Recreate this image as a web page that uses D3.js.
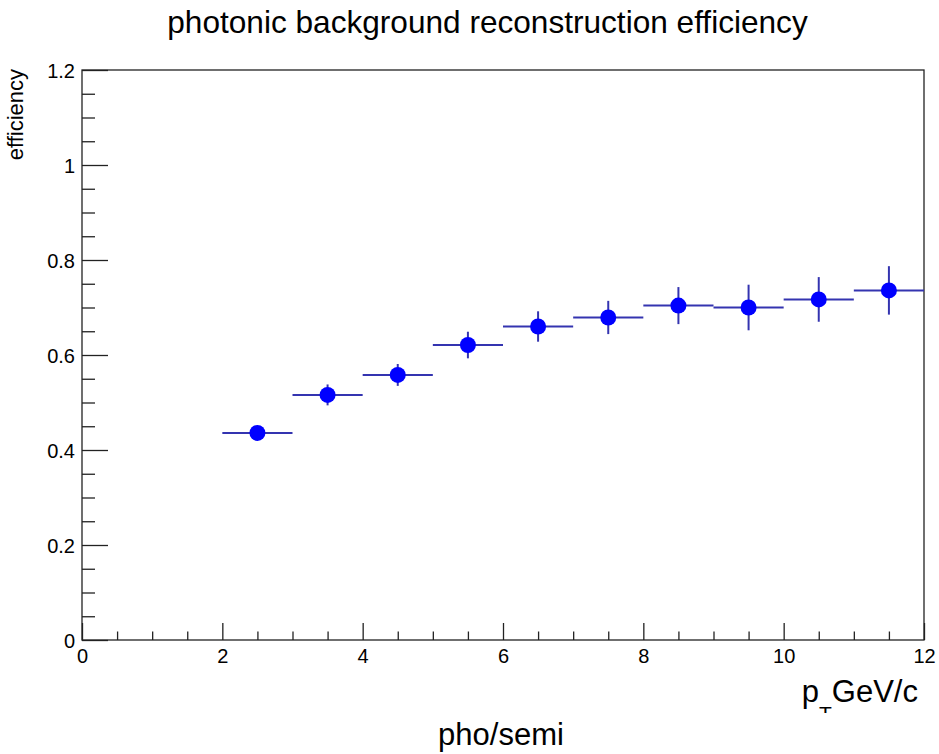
<!DOCTYPE html>
<html>
<head>
<meta charset="utf-8">
<script src="https://cdn.jsdelivr.net/npm/d3@7"></script>
<style>
  html, body { margin: 0; padding: 0; background: #fff; }
  svg { display: block; font-family: "Liberation Sans", Arial, Helvetica, sans-serif; }
</style>
</head>
<body>
<svg id="chart" width="939" height="754"></svg>
<script>
// ---- data ----
const binCenters = [2.5, 3.5, 4.5, 5.5, 6.5, 7.5, 8.5, 9.5, 10.5, 11.5];
const binHalfWidth = [0.5, 0.5, 0.5, 0.5, 0.5, 0.5, 0.5, 0.5, 0.5, 0.5];
const efficiency = [0.436, 0.516, 0.558, 0.621, 0.660, 0.679, 0.704, 0.700, 0.717, 0.736];
const efficiencyErr = [0.014, 0.022, 0.023, 0.028, 0.032, 0.035, 0.039, 0.048, 0.047, 0.051];
const xTickValues = [0, 2, 4, 6, 8, 10, 12];
const yTickValues = [0, 0.2, 0.4, 0.6, 0.8, 1.0, 1.2];
const titleText = "photonic background reconstruction efficiency";
const yTitleText = "efficiency";
const bottomText = "pho/semi";

(function () {
// ---- layout ----
const svg = d3.select("#chart");
const pLeft = 82, pRight = 924, pTop = 70, pBottom = 640;

const x = d3.scaleLinear().domain([0, 12]).range([pLeft, pRight]);
const y = d3.scaleLinear().domain([0, 1.2]).range([pBottom, pTop]);

const axisColor = "#222";

// minor ticks
const xMinor = d3.range(0, 12.0001, 0.5).filter(v => Math.abs(v / 2 - Math.round(v / 2)) > 1e-6);
const yMinor = d3.range(0, 1.2001, 0.05).filter(v => Math.abs(v / 0.2 - Math.round(v / 0.2)) > 1e-6);

// x axis (ticks pointing up)
const gx = svg.append("g").attr("transform", `translate(0,${pBottom})`);
gx.call(d3.axisBottom(x).tickValues(xTickValues).tickSize(-17).tickPadding(24)
  .tickFormat(d3.format("d")));
const gxm = svg.append("g").attr("transform", `translate(0,${pBottom})`);
gxm.call(d3.axisBottom(x).tickValues(xMinor).tickSize(-8.5).tickFormat(""));

// y axis (ticks pointing right)
const gy = svg.append("g").attr("transform", `translate(${pLeft},0)`);
gy.call(d3.axisLeft(y).tickValues(yTickValues).tickSize(-26).tickPadding(8)
  .tickFormat(d => d === 0 ? "0" : (d === 1 ? "1" : d3.format(".1f")(d))));
const gym = svg.append("g").attr("transform", `translate(${pLeft},0)`);
gym.call(d3.axisLeft(y).tickValues(yMinor).tickSize(-13).tickFormat(""));

[gx, gxm, gy, gym].forEach(g => {
  g.select(".domain").remove();
  g.selectAll(".tick line").attr("stroke", axisColor).attr("stroke-width", 1.3);
  g.selectAll(".tick text").attr("fill", "#000").attr("font-size", 20)
    .attr("font-family", '"Liberation Sans", Arial, sans-serif');
});
gx.selectAll(".tick text").attr("dy", 0).attr("y", 23);
gy.selectAll(".tick text").attr("dy", "0.35em").attr("x", -7);

// frame
svg.append("rect")
  .attr("x", pLeft).attr("y", pTop)
  .attr("width", pRight - pLeft).attr("height", pBottom - pTop)
  .attr("fill", "none").attr("stroke", axisColor).attr("stroke-width", 1.3);

// data
const pts = binCenters.map((c, i) => ({ c, hw: binHalfWidth[i], v: efficiency[i], e: efficiencyErr[i] }));
const errColor = "#3434b0";
const gData = svg.append("g");
gData.selectAll("line.h").data(pts).enter().append("line")
  .attr("class", "h")
  .attr("x1", d => x(d.c - d.hw)).attr("x2", d => x(d.c + d.hw))
  .attr("y1", d => y(d.v)).attr("y2", d => y(d.v))
  .attr("stroke", errColor).attr("stroke-width", 2);
gData.selectAll("line.v").data(pts).enter().append("line")
  .attr("class", "v")
  .attr("x1", d => x(d.c)).attr("x2", d => x(d.c))
  .attr("y1", d => y(d.v - d.e)).attr("y2", d => y(d.v + d.e))
  .attr("stroke", errColor).attr("stroke-width", 2);
gData.selectAll("circle").data(pts).enter().append("circle")
  .attr("cx", d => x(d.c)).attr("cy", d => y(d.v)).attr("r", 8)
  .attr("fill", "#0000ff");

// titles
svg.append("text").attr("x", 487.5).attr("y", 33).attr("text-anchor", "middle")
  .attr("font-size", 31.6).attr("fill", "#000").text(titleText);

svg.append("text")
  .attr("transform", `translate(23,${pTop - 1}) rotate(-90)`)
  .attr("text-anchor", "end").attr("font-size", 22).attr("fill", "#000")
  .text(yTitleText);

// x-axis title (subscript partially clipped as in the reference)
svg.append("clipPath").attr("id", "xtclip")
  .append("rect").attr("x", 780).attr("y", 660).attr("width", 159).attr("height", 53);
const xt = svg.append("text").attr("x", 918).attr("y", 701.5).attr("text-anchor", "end")
  .attr("clip-path", "url(#xtclip)")
  .attr("font-size", 31).attr("fill", "#000");
xt.append("tspan").text("p");
xt.append("tspan").attr("font-size", 21).attr("dy", 19).text("T");
xt.append("tspan").attr("dy", -19).text("GeV/c");

svg.append("text").attr("x", 501).attr("y", 745).attr("text-anchor", "middle")
  .attr("font-size", 31).attr("fill", "#000").text(bottomText);
})();
</script>
</body>
</html>
